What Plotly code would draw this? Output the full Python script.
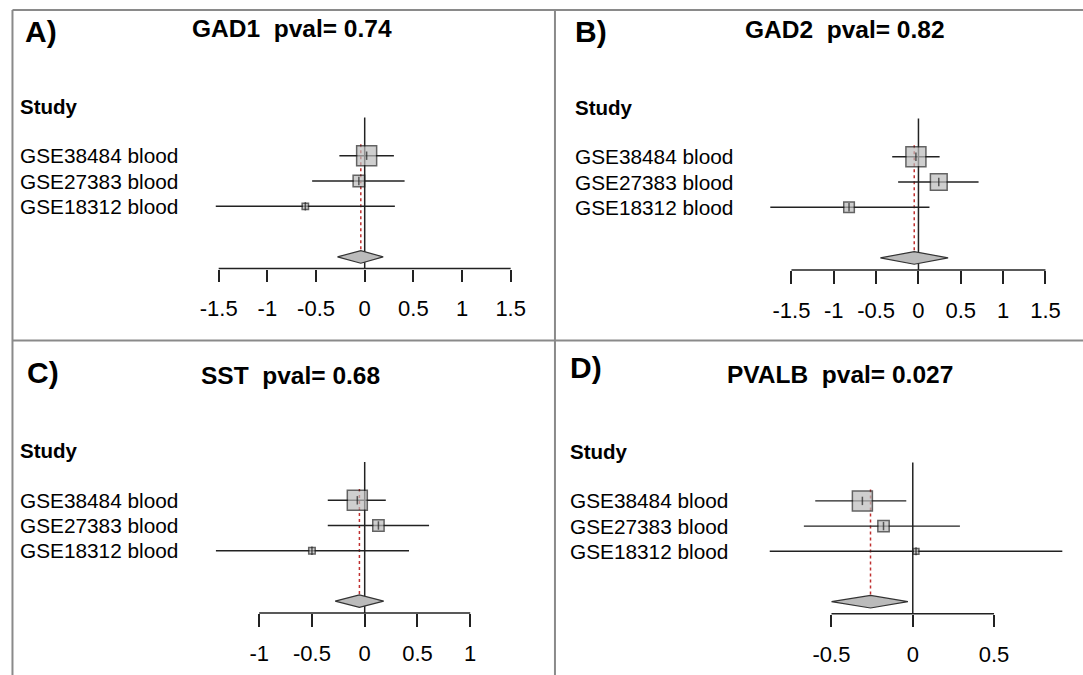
import numpy as np
import plotly.graph_objects as go

W, H = 1083, 675

# ---------------- data ----------------
studies = ["GSE38484 blood", "GSE27383 blood", "GSE18312 blood"]
panel_letters = ["A)", "B)", "C)", "D)"]
genes = ["GAD1", "GAD2", "SST", "PVALB"]
pvals = ["0.74", "0.82", "0.68", "0.027"]
NULL_EFFECT = 0

# per-study effect sizes, CI bounds and relative weights
est_GAD1 = [0.02, -0.06, -0.61]
lo_GAD1 = [-0.26, -0.54, -1.53]
hi_GAD1 = [0.30, 0.41, 0.31]
w_GAD1 = [1.0, 0.33, 0.10]
summary_GAD1 = [-0.04, -0.28, 0.19]      # estimate, lower, upper

est_GAD2 = [-0.03, 0.24, -0.82]
lo_GAD2 = [-0.31, -0.24, -1.75]
hi_GAD2 = [0.25, 0.71, 0.13]
w_GAD2 = [1.0, 0.70, 0.28]
summary_GAD2 = [-0.05, -0.45, 0.35]

est_SST = [-0.07, 0.13, -0.50]
lo_SST = [-0.35, -0.35, -1.41]
hi_SST = [0.20, 0.61, 0.42]
w_SST = [1.0, 0.32, 0.105]
summary_SST = [-0.05, -0.28, 0.18]

est_PVALB = [-0.31, -0.18, 0.02]
lo_PVALB = [-0.60, -0.67, -0.88]
hi_PVALB = [-0.04, 0.29, 0.92]
w_PVALB = [1.0, 0.32, 0.084]
summary_PVALB = [-0.26, -0.50, -0.03]

ticks_GAD1 = [-1.5, -1, -0.5, 0, 0.5, 1, 1.5]
ticklabels_GAD1 = ["-1.5", "-1", "-0.5", "0", "0.5", "1", "1.5"]
ticks_GAD2 = [-1.5, -1, -0.5, 0, 0.5, 1, 1.5]
ticklabels_GAD2 = ["-1.5", "-1", "-0.5", "0", "0.5", "1", "1.5"]
ticks_SST = [-1, -0.5, 0, 0.5, 1]
ticklabels_SST = ["-1", "-0.5", "0", "0.5", "1"]
ticks_PVALB = [-0.5, 0, 0.5]
ticklabels_PVALB = ["-0.5", "0", "0.5"]

data = [
    (est_GAD1, lo_GAD1, hi_GAD1, w_GAD1, summary_GAD1, ticks_GAD1, ticklabels_GAD1),
    (est_GAD2, lo_GAD2, hi_GAD2, w_GAD2, summary_GAD2, ticks_GAD2, ticklabels_GAD2),
    (est_SST, lo_SST, hi_SST, w_SST, summary_SST, ticks_SST, ticklabels_SST),
    (est_PVALB, lo_PVALB, hi_PVALB, w_PVALB, summary_PVALB, ticks_PVALB, ticklabels_PVALB),
]

# ---------------- layout (pixels) ----------------
geom = [
    dict(xdom=(200, 530), zero=362.7, unit=97.6, toprow=155.7, sp=25.3, axis=268.5, top=117.5,
         lab_x=15.5, let_x=20.5, let_y=31.5, tit_x=289.6, tit_y=28.7, study_y=106.7),
    dict(xdom=(760, 1075), zero=918.0, unit=84.9, toprow=156.7, sp=25.3, axis=270.0, top=118.5,
         lab_x=571.3, let_x=571.8, let_y=31.0, tit_x=844.6, tit_y=30.0, study_y=107.5),
    dict(xdom=(200, 530), zero=362.7, unit=105.8, toprow=500.3, sp=25.2, axis=613.0, top=462.0,
         lab_x=15.5, let_x=22.2, let_y=372.0, tit_x=288.6, tit_y=375.0, study_y=450.5),
    dict(xdom=(760, 1075), zero=912.3, unit=163.0, toprow=500.9, sp=25.2, axis=613.7, top=462.5,
         lab_x=566.1, let_x=566.6, let_y=367.0, tit_x=839.0, tit_y=374.0, study_y=452.0),
]

FONT = "Liberation Sans, Arial, sans-serif"
LINE = "#222222"
FILL = "#BBBBBB"
BOX_MAX = 20
DIAMOND_H = 0.25

def px2x(px):
    return px / W

def px2y(py):
    return 1 - py / H

fig = go.Figure()
shapes = []
annotations = []
layout_axes = {}

n = len(studies)
rows = [n - i for i in range(n)]
summary_row = 0 - 1

for k, (est, lo, hi, w, summ, ticks, tlabels) in enumerate(data):
    g = geom[k]
    suffix = "" if k == 0 else str(k + 1)
    xa, ya = "x" + suffix, "y" + suffix

    def yval(py, g=g):
        return rows[0] - (py - g["toprow"]) / g["sp"]

    xr = [(g["xdom"][0] - g["zero"]) / g["unit"], (g["xdom"][1] - g["zero"]) / g["unit"]]
    yr = [yval(g["axis"]), yval(g["top"])]

    layout_axes["xaxis" + suffix] = dict(
        domain=[px2x(g["xdom"][0]), px2x(g["xdom"][1])], range=xr, anchor=ya,
        showgrid=False, zeroline=False, showline=False,
        tickmode="array", tickvals=ticks, ticktext=tlabels,
        ticks="outside", ticklen=12.5, tickwidth=1.5, tickcolor=LINE,
        tickfont=dict(family=FONT, size=22, color="black"), ticklabelstandoff=8,
        fixedrange=True,
    )
    layout_axes["yaxis" + suffix] = dict(
        domain=[px2y(g["axis"]), px2y(g["top"])], range=yr, anchor=xa,
        visible=False, fixedrange=True,
    )

    # axis line from first to last tick
    shapes.append(dict(type="line", xref=xa, yref=ya + " domain", x0=min(ticks), x1=max(ticks),
                       y0=0, y1=0, line=dict(color=LINE, width=1.5)))
    # null effect vertical line
    shapes.append(dict(type="line", xref=xa, yref=ya + " domain", x0=NULL_EFFECT, x1=NULL_EFFECT,
                       y0=0, y1=1, line=dict(color=LINE, width=1.5), layer="below"))

    s_est, s_lo, s_hi = summ
    # summary dotted line (behind the boxes)
    fig.add_trace(go.Scatter(x=[s_est, s_est], y=[rows[0] + 0.45, summary_row + DIAMOND_H],
                             mode="lines", line=dict(color="#C03030", width=1.5, dash="dot"),
                             xaxis=xa, yaxis=ya, showlegend=False, hoverinfo="skip"))

    # confidence intervals
    cx, cy = [], []
    for e_lo, e_hi, r in zip(lo, hi, rows):
        cx += [e_lo, e_hi, None]
        cy += [r, r, None]
    fig.add_trace(go.Scatter(x=cx, y=cy, mode="lines", line=dict(color=LINE, width=1.4),
                             xaxis=xa, yaxis=ya, showlegend=False, hoverinfo="skip"))
    # boxes
    sizes = [BOX_MAX * np.sqrt(v) for v in w]
    fig.add_trace(go.Scatter(x=est, y=rows, mode="markers",
                             marker=dict(symbol="square", size=sizes, color=FILL,
                                         line=dict(color="#222222", width=1.5)),
                             xaxis=xa, yaxis=ya, showlegend=False, hoverinfo="skip"))
    # centre tick
    fig.add_trace(go.Scatter(x=est, y=rows, mode="markers",
                             marker=dict(symbol="line-ns", size=[min(6, s) for s in sizes],
                                         line=dict(color=LINE, width=1.5)),
                             xaxis=xa, yaxis=ya, showlegend=False, hoverinfo="skip"))
    # summary diamond
    fig.add_trace(go.Scatter(
        x=[s_lo, s_est, s_hi, s_est, s_lo],
        y=[summary_row, summary_row + DIAMOND_H, summary_row, summary_row - DIAMOND_H, summary_row],
        mode="lines", fill="toself", fillcolor=FILL, line=dict(color="#333333", width=1.2),
        xaxis=xa, yaxis=ya, showlegend=False, hoverinfo="skip"))

    # texts
    annotations.append(dict(text="<b>%s</b>" % panel_letters[k], x=px2x(g["let_x"]), y=px2y(g["let_y"]),
                            xref="paper", yref="paper", xanchor="left", yanchor="middle",
                            showarrow=False, font=dict(family=FONT, size=30, color="black")))
    annotations.append(dict(text="<b>%s\u00a0 pval= %s</b>" % (genes[k], pvals[k]),
                            x=px2x(g["tit_x"]), y=px2y(g["tit_y"]),
                            xref="paper", yref="paper", xanchor="center", yanchor="middle",
                            showarrow=False, font=dict(family=FONT, size=24.5, color="black")))
    annotations.append(dict(text="<b>Study</b>", x=px2x(g["lab_x"]), y=px2y(g["study_y"]),
                            xref="paper", yref="paper", xanchor="left", yanchor="middle",
                            showarrow=False, font=dict(family=FONT, size=20.5, color="black")))
    for name, r in zip(studies, rows):
        annotations.append(dict(text=name, x=px2x(g["lab_x"]), y=r,
                                xref="paper", yref=ya, xanchor="left", yanchor="middle",
                                showarrow=False, font=dict(family=FONT, size=20.8, color="black")))

# panel borders
BORDER = "#8A8A8A"
bl, bt, vx, hy = 9.5, 10.0, 553.5, 340.5
for (x0, y0, x1, y1) in [(bl, bt, W, bt), (bl, bt, bl, H), (vx, bt, vx, H), (bl, hy, W, hy)]:
    shapes.append(dict(type="line", xref="paper", yref="paper",
                       x0=px2x(x0), y0=px2y(y0), x1=px2x(x1), y1=px2y(y1),
                       line=dict(color=BORDER, width=2)))

fig.update_layout(
    width=W, height=H, margin=dict(l=0, r=0, t=0, b=0),
    paper_bgcolor="white", plot_bgcolor="rgba(0,0,0,0)",
    shapes=shapes, annotations=annotations, showlegend=False,
    **layout_axes,
)

fig.write_html("out.html", config={"displayModeBar": False},
               post_script="document.body.style.margin='0';document.body.style.overflow='hidden';")
